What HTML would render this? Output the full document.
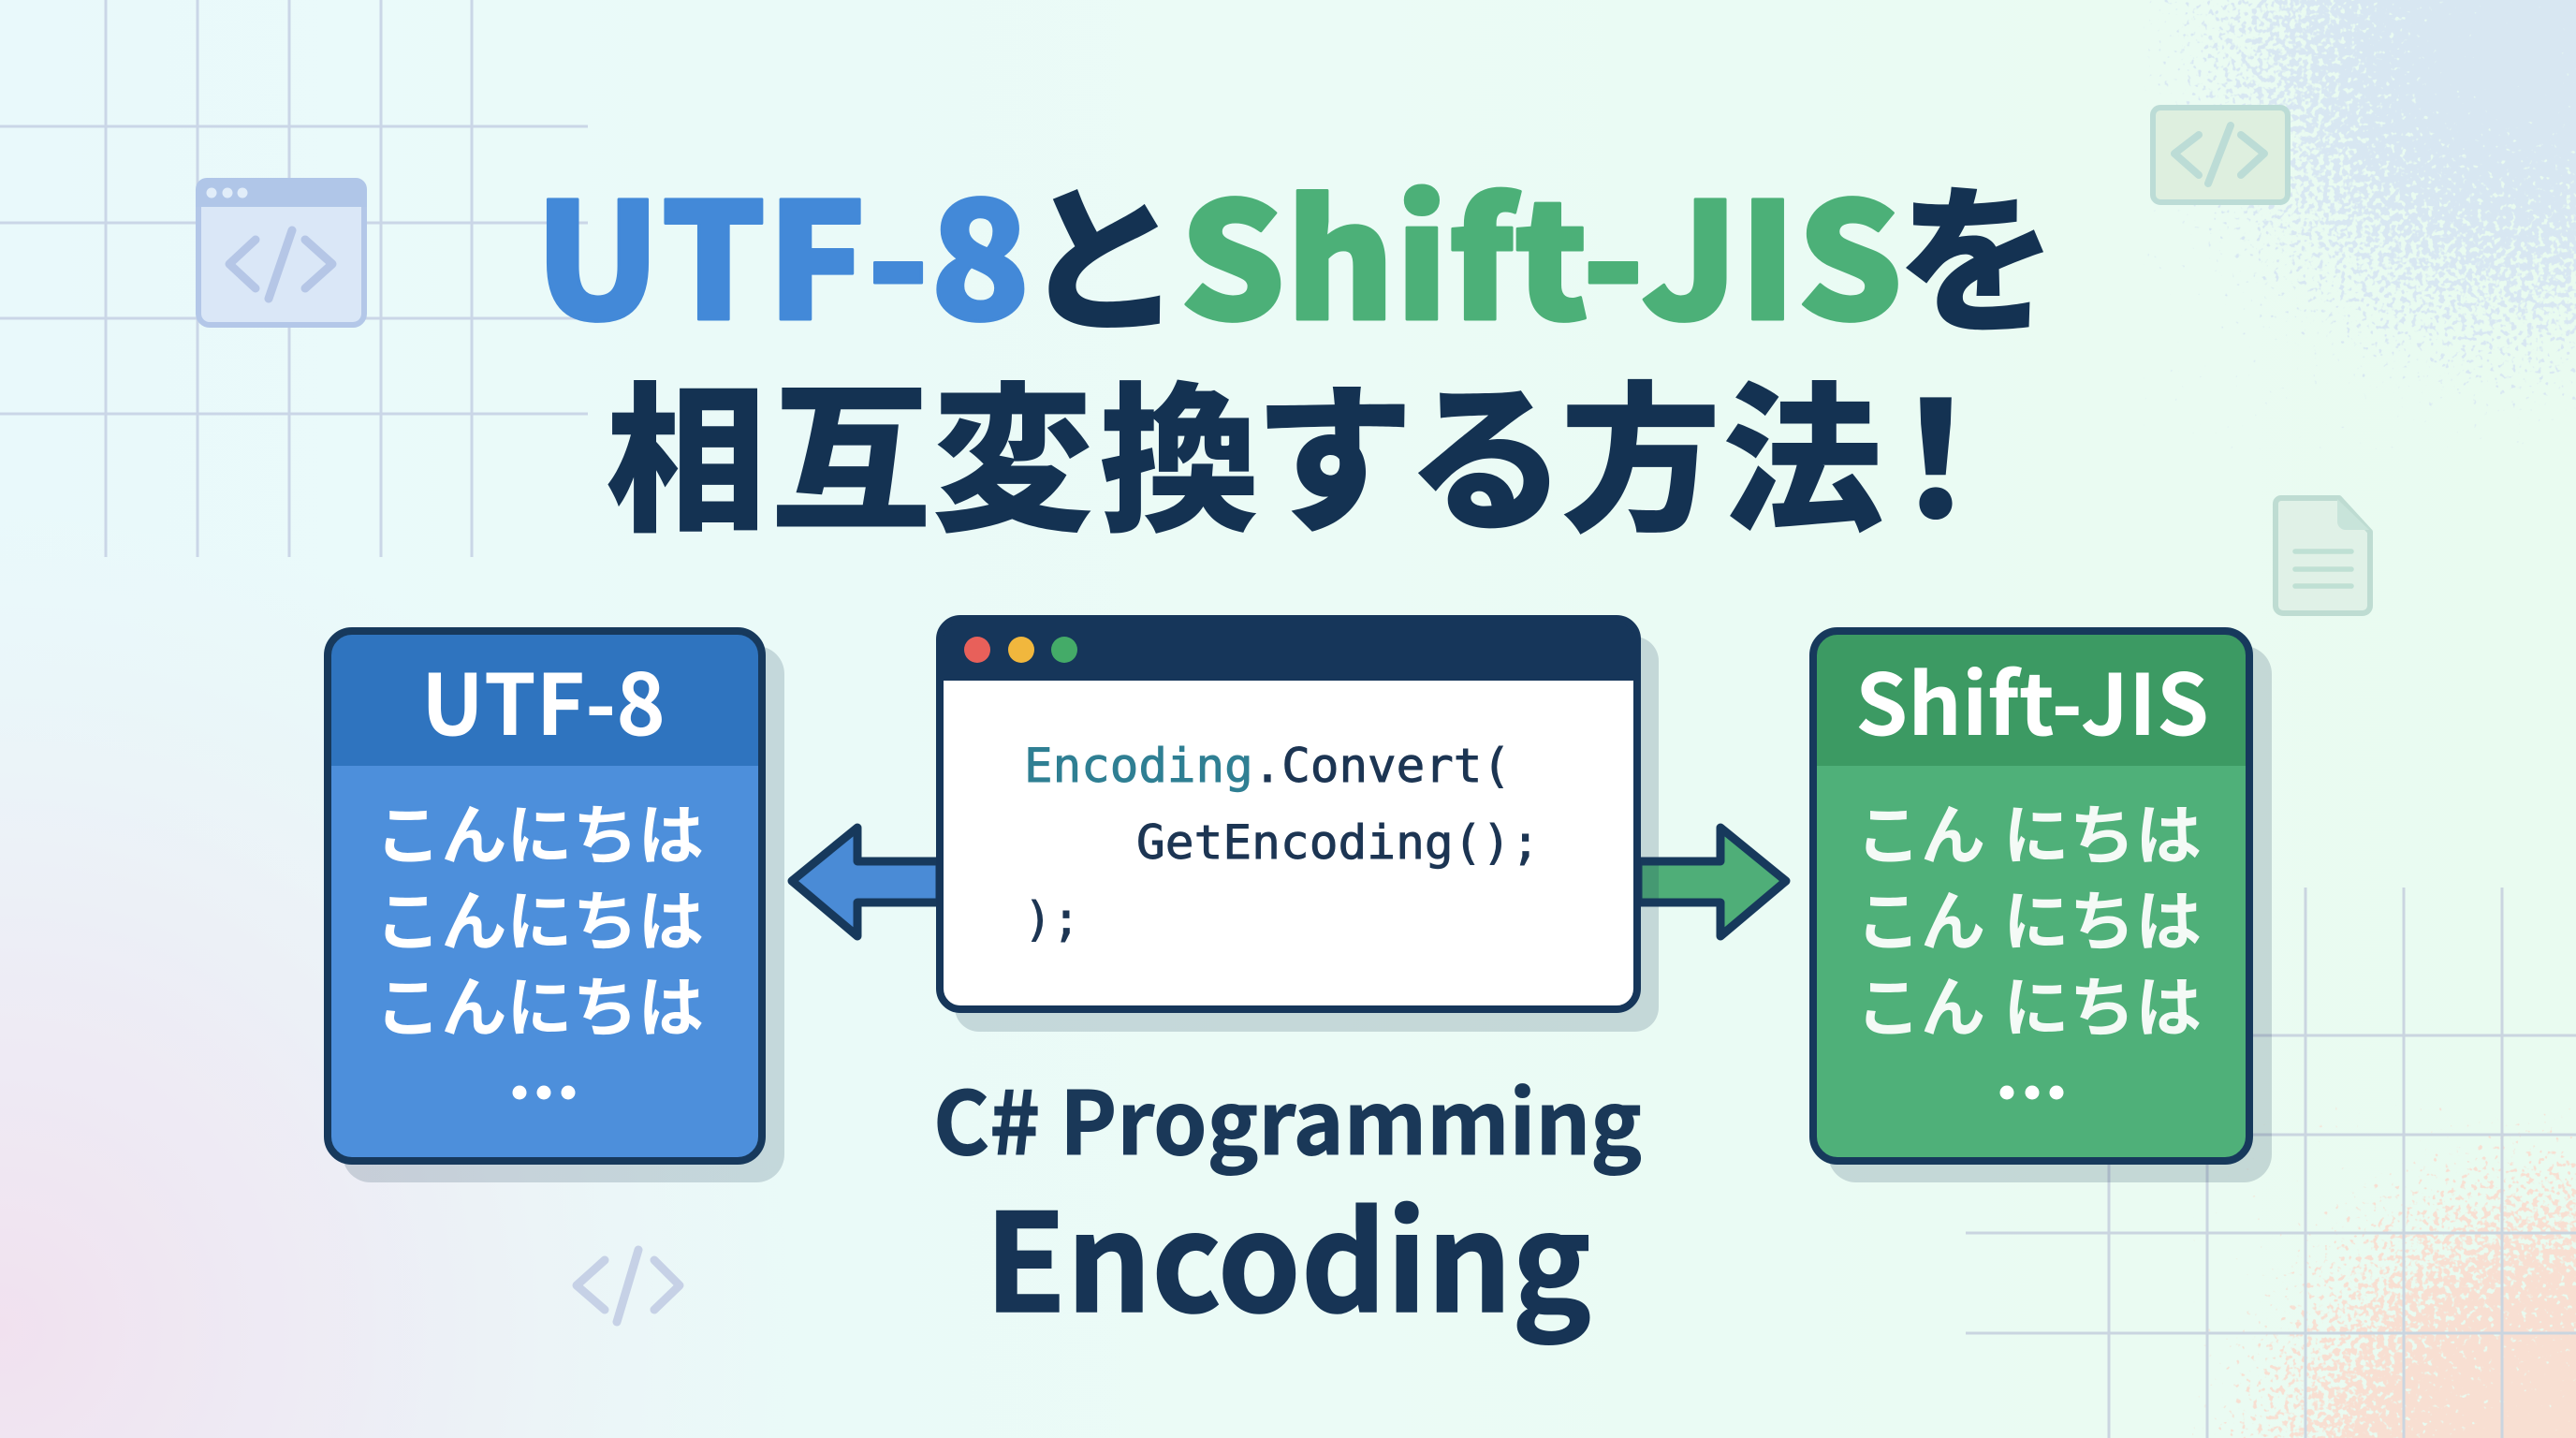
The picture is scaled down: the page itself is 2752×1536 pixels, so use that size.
<!DOCTYPE html>
<html lang="ja"><head><meta charset="utf-8"><title>UTF-8とShift-JISを相互変換する方法！</title>
<style>html,body{margin:0;padding:0;background:#e9fbf3;width:2752px;height:1536px;overflow:hidden}svg{display:block}
.n{font-family:"Noto Sans CJK JP","Liberation Sans",sans-serif}
.m{font-family:"DejaVu Sans Mono","Liberation Mono",monospace}
</style></head><body>
<svg xmlns="http://www.w3.org/2000/svg" width="2752" height="1536" viewBox="0 0 2752 1536">
<defs>
<linearGradient id="bg" x1="0" y1="0" x2="1" y2="0"><stop offset="0" stop-color="#e9f9fb"/><stop offset=".5" stop-color="#ebfbf6"/><stop offset="1" stop-color="#e9fbf0"/></linearGradient>
<radialGradient id="pink" gradientUnits="userSpaceOnUse" cx="0" cy="1420" r="880"><stop offset="0" stop-color="#f1e1ef"/><stop offset=".45" stop-color="#eeeaf4" stop-opacity=".8"/><stop offset="1" stop-color="#ecf2f6" stop-opacity="0"/></radialGradient>
<radialGradient id="blue" gradientUnits="userSpaceOnUse" cx="2690" cy="50" r="420"><stop offset="0" stop-color="#000"/><stop offset=".4" stop-color="#000" stop-opacity=".72"/><stop offset=".75" stop-color="#000" stop-opacity=".45"/><stop offset="1" stop-color="#000" stop-opacity=".2"/></radialGradient>
<radialGradient id="peach" gradientUnits="userSpaceOnUse" cx="2752" cy="1590" r="420"><stop offset="0" stop-color="#000"/><stop offset=".5" stop-color="#000" stop-opacity=".72"/><stop offset=".8" stop-color="#000" stop-opacity=".45"/><stop offset="1" stop-color="#000" stop-opacity=".2"/></radialGradient>
<filter id="spB" x="0" y="0" width="100%" height="100%" color-interpolation-filters="sRGB"><feTurbulence type="fractalNoise" baseFrequency=".17" numOctaves="2" seed="7"/><feColorMatrix values="0 0 0 0 0 0 0 0 0 0 0 0 0 0 0 0 0 0 1 0" result="n"/><feComposite in="SourceAlpha" in2="n" operator="arithmetic" k1="0" k2="1" k3="1" k4="-1"/><feColorMatrix values="0 0 0 0 0 0 0 0 0 0 0 0 0 0 0 0 0 0 9 0" result="m"/><feFlood flood-color="#d8e7f2"/><feComposite in2="m" operator="in"/></filter>
<filter id="spP" x="0" y="0" width="100%" height="100%" color-interpolation-filters="sRGB"><feTurbulence type="fractalNoise" baseFrequency=".17" numOctaves="2" seed="11"/><feColorMatrix values="0 0 0 0 0 0 0 0 0 0 0 0 0 0 0 0 0 0 1 0" result="n"/><feComposite in="SourceAlpha" in2="n" operator="arithmetic" k1="0" k2="1" k3="1" k4="-1"/><feColorMatrix values="0 0 0 0 0 0 0 0 0 0 0 0 0 0 0 0 0 0 9 0" result="m"/><feFlood flood-color="#f8dfd2"/><feComposite in2="m" operator="in"/></filter>
</defs>

<rect width="2752" height="1536" fill="url(#bg)"/>
<rect width="1300" height="1536" fill="url(#pink)"/>
<rect x="2290" y="0" width="462" height="480" fill="url(#blue)" filter="url(#spB)"/>
<rect x="2340" y="1180" width="412" height="356" fill="url(#peach)" filter="url(#spP)"/>

<!-- grids -->
<g stroke="#cad6e7" stroke-width="3" fill="none">
<path d="M113 0V595M211 0V595M309 0V595M407 0V595M504 0V595M0 135H628M0 238H628M0 340H628M0 442H628"/>
<path stroke="#cad5e0" d="M2253 948V1536M2358 948V1536M2463 948V1536M2568 948V1536M2673 948V1536M2100 1106H2752M2100 1212H2752M2100 1317H2752M2100 1424H2752"/>
</g>

<!-- top-left window icon -->
<rect x="212" y="193" width="177" height="154" rx="12" fill="#dae7f7" stroke="#b3c7e8" stroke-width="6"/>
<path d="M209 221V202a12 12 0 0 1 12-12H380a12 12 0 0 1 12 12V221Z" fill="#b0c6e8"/>
<circle cx="226" cy="206" r="5.5" fill="#e1edf9"/><circle cx="243" cy="206" r="5.5" fill="#e1edf9"/><circle cx="259" cy="206" r="5.5" fill="#e1edf9"/>
<path d="M273 256L245 282L273 308M326 256L355 282L326 308M312 246L287 319" fill="none" stroke="#b5c6e6" stroke-width="9" stroke-linecap="round" stroke-linejoin="round"/>

<!-- top-right code icon -->
<rect x="2300" y="115" width="144" height="101" rx="8" fill="#deefdf" stroke="#bcdcd6" stroke-width="6"/>
<path d="M2349 144L2323 164L2349 187M2394 144L2419 164L2394 187M2383 134L2359 196" fill="none" stroke="#bcdcd6" stroke-width="8" stroke-linecap="round" stroke-linejoin="round"/>

<!-- doc icon -->
<path d="M2437 532H2499L2532 568V647a8 8 0 0 1-8 8H2439a8 8 0 0 1-8-8V538a6 6 0 0 1 6-6Z" fill="#e0f1e7" stroke="#bedcd2" stroke-width="6" stroke-linejoin="round"/>
<path d="M2497 533L2531 566H2506a9 9 0 0 1-9-9Z" fill="#c8e4da"/>
<path d="M2452 589H2512M2452 608H2512M2452 626H2512" stroke="#bfe0d4" stroke-width="5.5" stroke-linecap="round"/>

<!-- bottom-left code icon -->
<path d="M646 1346L616 1373L646 1399M699 1346L726 1373L699 1399M682 1335L659 1412" fill="none" stroke="#c6d1e6" stroke-width="9" stroke-linecap="round" stroke-linejoin="round"/>

<!-- Title -->
<g font-weight="900" stroke-linejoin="round">
<text class="n" x="571" y="341" font-size="172" fill="#4389d8" stroke="#4389d8" stroke-width="3" textLength="530" lengthAdjust="spacingAndGlyphs">UTF-8</text>
<text class="n" x="1178" y="341" font-size="172" text-anchor="middle" fill="#143252">と</text>
<text class="n" x="1260" y="341" font-size="172" fill="#4cb078" stroke="#4cb078" stroke-width="3" textLength="773" lengthAdjust="spacingAndGlyphs">Shift-JIS</text>
<text class="n" x="2112" y="341" font-size="172" text-anchor="middle" fill="#143252">を</text>
<text class="n" y="553" font-size="172" text-anchor="middle" fill="#143252" x="733 909 1082 1260 1425 1588 1753 1926 2068">相互変換する方法！</text>
</g>

<!-- arrows -->
<path d="M1004 920H916V884L846 941L916 1000V964H1004Z" fill="#4a8bd6" stroke="#17395c" stroke-width="9" stroke-linejoin="round"/>
<path d="M1750 920H1838V884L1908 941L1838 1000V964H1750Z" fill="#4fae78" stroke="#17395c" stroke-width="9" stroke-linejoin="round"/>

<!-- UTF-8 card -->
<rect x="366" y="690" width="472" height="573" rx="30" fill="#1e3c5a" fill-opacity=".18"/>
<rect x="350" y="674" width="464" height="566" rx="26" fill="#4d8fdb"/>
<path d="M350 818V700a26 26 0 0 1 26-26H788a26 26 0 0 1 26 26V818Z" fill="#2f74bf"/>
<rect x="350" y="674" width="464" height="566" rx="26" fill="none" stroke="#17395c" stroke-width="8"/>
<text class="n" x="450" y="785" font-size="90" font-weight="700" fill="#fff" textLength="261" lengthAdjust="spacingAndGlyphs">UTF-8</text>
<g class="n" font-size="70" font-weight="700" fill="#fff">
<text x="401" y="917" textLength="351" lengthAdjust="spacingAndGlyphs">こんにちは</text>
<text x="401" y="1009" textLength="351" lengthAdjust="spacingAndGlyphs">こんにちは</text>
<text x="401" y="1101" textLength="351" lengthAdjust="spacingAndGlyphs">こんにちは</text>
</g>
<circle cx="555" cy="1167" r="7.5" fill="#fff"/><circle cx="581" cy="1167" r="7.5" fill="#fff"/><circle cx="607" cy="1167" r="7.5" fill="#fff"/>

<!-- Window -->
<rect x="1020" y="680" width="752" height="422" rx="26" fill="#1e3c5a" fill-opacity=".18"/>
<rect x="1004" y="661" width="745" height="417" rx="22" fill="#fff"/>
<path d="M1004 727V683a22 22 0 0 1 22-22H1727a22 22 0 0 1 22 22V727Z" fill="#16365a"/>
<rect x="1004" y="661" width="745" height="417" rx="22" fill="none" stroke="#16365a" stroke-width="8"/>
<circle cx="1044" cy="694" r="14" fill="#e8605a"/><circle cx="1091" cy="694" r="14" fill="#f1b73d"/><circle cx="1137" cy="694" r="14" fill="#44ab68"/>
<g class="m" font-size="50" fill="#1c3553" stroke="#1c3553" stroke-width=".9">
<text x="1094" y="835" textLength="520" lengthAdjust="spacingAndGlyphs"><tspan fill="#2f7f93" stroke="#2f7f93">Encoding</tspan>.Convert(</text>
<text x="1214" y="917" textLength="431" lengthAdjust="spacingAndGlyphs">GetEncoding();</text>
<text x="1094" y="999" textLength="60" lengthAdjust="spacingAndGlyphs">);</text>
</g>

<!-- Shift-JIS card -->
<rect x="1953" y="690" width="474" height="573" rx="30" fill="#1e3c5a" fill-opacity=".18"/>
<rect x="1937" y="674" width="466" height="566" rx="26" fill="#4fb079"/>
<path d="M1937 818V700a26 26 0 0 1 26-26H2377a26 26 0 0 1 26 26V818Z" fill="#3c9a63"/>
<rect x="1937" y="674" width="466" height="566" rx="26" fill="none" stroke="#17395c" stroke-width="8"/>
<text class="n" x="1982" y="785" font-size="90" font-weight="700" fill="#fff" textLength="378" lengthAdjust="spacingAndGlyphs">Shift-JIS</text>
<g class="n" font-size="70" font-weight="700" fill="#f4faf6">
<text x="1983" y="917" textLength="138" lengthAdjust="spacingAndGlyphs">こん</text><text x="2140" y="917" textLength="212" lengthAdjust="spacingAndGlyphs">にちは</text>
<text x="1983" y="1009" textLength="138" lengthAdjust="spacingAndGlyphs">こん</text><text x="2140" y="1009" textLength="212" lengthAdjust="spacingAndGlyphs">にちは</text>
<text x="1983" y="1101" textLength="138" lengthAdjust="spacingAndGlyphs">こん</text><text x="2140" y="1101" textLength="212" lengthAdjust="spacingAndGlyphs">にちは</text>
</g>
<circle cx="2144" cy="1167" r="7.5" fill="#fff"/><circle cx="2171" cy="1167" r="7.5" fill="#fff"/><circle cx="2197" cy="1167" r="7.5" fill="#fff"/>

<!-- Bottom text -->
<text class="n" x="997" y="1233" font-size="93" font-weight="700" fill="#1a3858" stroke="#1a3858" stroke-width="1" textLength="757" lengthAdjust="spacingAndGlyphs">C# Programming</text>
<text class="n" x="1052" y="1401" font-size="145" font-weight="700" fill="#173455" stroke="#173455" stroke-width="1.5" textLength="648" lengthAdjust="spacingAndGlyphs">Encoding</text>
</svg>
</body></html>
